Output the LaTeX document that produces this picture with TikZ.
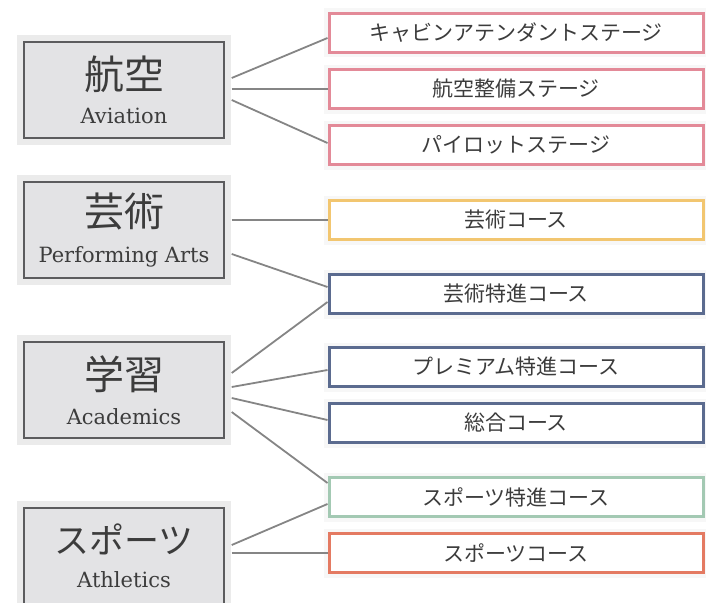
\documentclass[tikz,border=0pt]{standalone}
\usepackage{fontspec}
\newfontfamily\jp{Noto Sans CJK JP}
\newfontfamily\en{DejaVu Serif}
\usepackage{xcolor}
\usepackage{tikz}
\usetikzlibrary{positioning}

\definecolor{textgray}{HTML}{3C3C3C}
\definecolor{areafill}{HTML}{E3E3E5}
\definecolor{arealine}{HTML}{5C5C5E}
\definecolor{areaband}{HTML}{EBEBEB}
\definecolor{linegray}{HTML}{858585}
\definecolor{avired}{HTML}{E38A98}
\definecolor{artyellow}{HTML}{F2C670}
\definecolor{acblue}{HTML}{5B6B8F}
\definecolor{spgreen}{HTML}{A3C9B3}
\definecolor{sporange}{HTML}{E47A62}

\newcommand{\areatext}[3][40]{{\jp\fontsize{#1}{44}\selectfont #2}\\[15pt]{\en\fontsize{21}{24}\selectfont #3}}

\begin{document}
\begin{tikzpicture}[x=1pt, y=-1pt, text=textgray]
    \tikzset{
        area/.style={fill=areafill, draw=arealine, line width=1.4pt,
                minimum width=200pt, minimum height=96pt, align=center,
                preaction={draw=areaband, line width=14pt}},
        course/.style={fill=white, line width=3pt, minimum width=374pt,
                minimum height=39pt, font=\jp\fontsize{21}{25}\selectfont,
                preaction={draw=black!3, line width=10pt}},
        link/.style={draw=linegray, line width=1.8pt}
    }
    \useasboundingbox (0,0) rectangle (706,602);

    % ---- LEFT: areas ----
    \node[area] (avi)  at (124,90)  {\areatext{航空}{Aviation}};
    \node[area] (perf) at (124,230) {\areatext{芸術}{Performing Arts}};
    \node[area] (acad) at (124,390) {\areatext{学習}{Academics}};
    \node[area] (ath)  at (124,556) {\areatext[35]{スポーツ}{Athletics}};

    % ---- RIGHT: courses ----
    \foreach \name/\y/\col/\txt in {cabin/33/avired/キャビンアテンダントステージ,
            mech/89/avired/航空整備ステージ, pilot/145/avired/パイロットステージ,
            artc/220/artyellow/芸術コース, artsp/294/acblue/芸術特進コース,
            prem/367/acblue/プレミアム特進コース, gen/423/acblue/総合コース,
            spsp/497/spgreen/スポーツ特進コース, sportc/553/sporange/スポーツコース} {
            \node[course, draw=\col] (\name) at (516,\y) {\txt};
        }

    % ---- LINKS ----
    \foreach \from/\fy/\to/\ty in {avi/-12/cabin/5, avi/-1/mech/0, avi/10/pilot/-2,
            perf/-10/artc/0, perf/24/artsp/-7,
            acad/-17/artsp/8, acad/-3/prem/3, acad/8/gen/-3, acad/22/spsp/-14,
            ath/-11/spsp/7, ath/-3/sportc/0} {
            \draw[link] ([shift={(7,\fy)}]\from.east) -- ([shift={(0,\ty)}]\to.west);
        }

\end{tikzpicture}
\end{document}
